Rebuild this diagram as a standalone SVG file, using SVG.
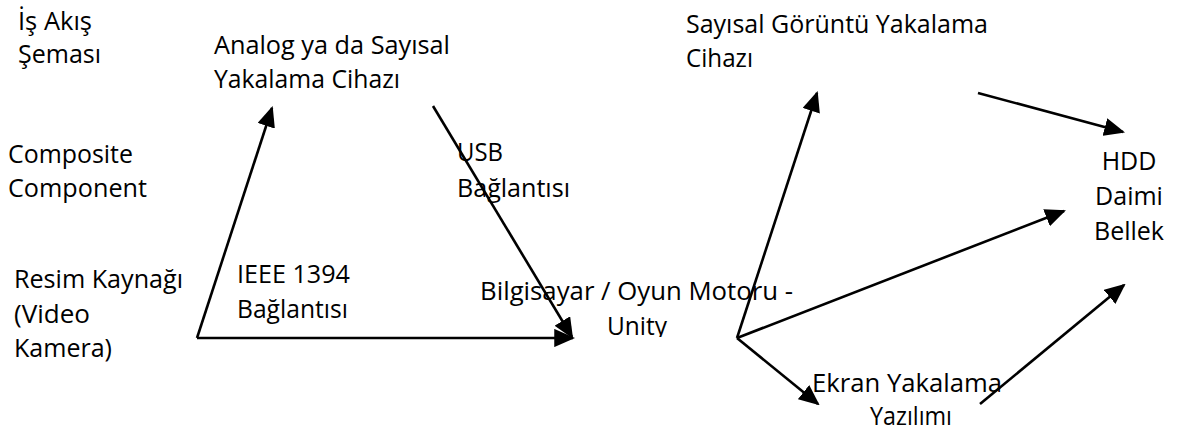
<svg xmlns="http://www.w3.org/2000/svg" width="1178" height="431" viewBox="0 0 1178 431">
<style>
text{font-family:"Open Sans","Noto Sans",sans-serif;font-size:25px;fill:#000}
.c{text-anchor:middle}
.ln{stroke:#000;stroke-width:2.6;fill:none}
</style>
<defs>
<marker id="ah" markerWidth="8" markerHeight="7" refX="7.2" refY="3.5" orient="auto" markerUnits="strokeWidth">
<path d="M0,0 L8,3.5 L0,7 Z" fill="#000"/>
</marker>
<clipPath id="clipU"><rect x="590" y="300" width="100" height="37"/></clipPath>
</defs>
<rect width="1178" height="431" fill="#fff"/>
<g id="connectors">
<path class="ln" d="M197,338 L272,108" marker-end="url(#ah)"/>
<path class="ln" d="M197,338 L573,338" marker-end="url(#ah)"/>
<path class="ln" d="M433,106 L572,337" marker-end="url(#ah)"/>
<path class="ln" d="M737,338 L817,93" marker-end="url(#ah)"/>
<path class="ln" d="M737,338 L1064,211" marker-end="url(#ah)"/>
<path class="ln" d="M737,338 L818,404" marker-end="url(#ah)"/>
<path class="ln" d="M980,404 L1124,285" marker-end="url(#ah)"/>
<path class="ln" d="M978,93 L1123,132" marker-end="url(#ah)"/>
</g>
<g id="title">
<text x="18" y="30" textLength="74" lengthAdjust="spacingAndGlyphs">İş Akış</text>
<text x="18" y="63" textLength="83" lengthAdjust="spacingAndGlyphs">Şeması</text>
</g>
<g id="composite">
<text x="8" y="163" textLength="125" lengthAdjust="spacingAndGlyphs">Composite</text>
<text x="8" y="197" textLength="139" lengthAdjust="spacingAndGlyphs">Component</text>
</g>
<g id="source">
<text x="14" y="288" textLength="169" lengthAdjust="spacingAndGlyphs">Resim Kaynağı</text>
<text x="14" y="323" textLength="76" lengthAdjust="spacingAndGlyphs">(Video</text>
<text x="14" y="357" textLength="98" lengthAdjust="spacingAndGlyphs">Kamera)</text>
</g>
<g id="capture-device">
<text x="214" y="54" textLength="236" lengthAdjust="spacingAndGlyphs">Analog ya da Sayısal</text>
<text x="214" y="88" textLength="186" lengthAdjust="spacingAndGlyphs">Yakalama Cihazı</text>
</g>
<g id="ieee-label">
<text x="237" y="283" textLength="113" lengthAdjust="spacingAndGlyphs">IEEE 1394</text>
<text x="237" y="318" textLength="111" lengthAdjust="spacingAndGlyphs">Bağlantısı</text>
</g>
<g id="usb-label">
<text x="457" y="161" textLength="46" lengthAdjust="spacingAndGlyphs">USB</text>
<text x="457" y="197" textLength="113" lengthAdjust="spacingAndGlyphs">Bağlantısı</text>
</g>
<g id="computer">
<text x="480" y="300" textLength="313" lengthAdjust="spacingAndGlyphs">Bilgisayar / Oyun Motoru -</text>
<text x="607" y="335" textLength="60" lengthAdjust="spacingAndGlyphs" clip-path="url(#clipU)">Unity</text>
</g>
<g id="digital-capture">
<text x="686" y="33" textLength="302" lengthAdjust="spacingAndGlyphs">Sayısal Görüntü Yakalama</text>
<text x="686" y="67" textLength="67" lengthAdjust="spacingAndGlyphs">Cihazı</text>
</g>
<g id="hdd">
<text class="c" x="1129" y="170">HDD</text>
<text class="c" x="1129" y="205">Daimi</text>
<text class="c" x="1129" y="240">Bellek</text>
</g>
<g id="screen-capture">
<text x="812" y="392" textLength="190" lengthAdjust="spacingAndGlyphs">Ekran Yakalama</text>
<text x="870" y="425" textLength="82" lengthAdjust="spacingAndGlyphs">Yazılımı</text>
</g>
</svg>
